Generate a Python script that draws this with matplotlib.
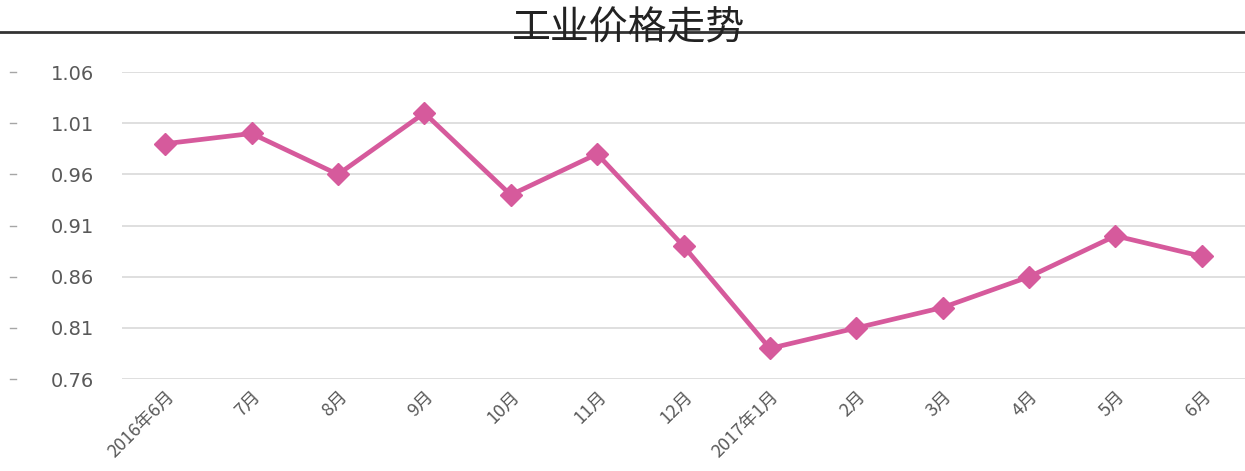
import matplotlib
matplotlib.use('Agg')
import matplotlib.pyplot as plt
import matplotlib.transforms as mtransforms

plt.rcParams['font.family'] = ['Noto Sans CJK SC', 'DejaVu Sans']

months = ['2016年6月', '7月', '8月', '9月', '10月', '11月', '12月',
          '2017年1月', '2月', '3月', '4月', '5月', '6月']
values = [0.99, 1.00, 0.96, 1.02, 0.94, 0.98, 0.89,
          0.79, 0.81, 0.83, 0.86, 0.90, 0.88]
yticks = [0.76, 0.81, 0.86, 0.91, 0.96, 1.01, 1.06]
title = '工业价格走势'

fig = plt.figure(figsize=(12.45, 4.71), dpi=100)
ax = fig.add_axes([0.098, 0.195, 0.902, 0.652])

x = list(range(len(months)))
ax.plot(x, values, color='#d65a9c', lw=3.4, marker='D', markersize=11,
        markeredgecolor='#d65a9c', zorder=3)

ax.set_xlim(-0.5, len(months) - 0.5)
ax.set_ylim(0.76, 1.06)
ax.set_yticks(yticks)
ax.set_yticklabels(['%.2f' % v for v in yticks], family=['DejaVu Sans'])
ax.set_xticks(x)
ax.set_xticklabels(months, rotation=45, ha='right', rotation_mode='anchor')
ax.grid(axis='y', color='#d9d9d9', lw=1.2)
ax.set_axisbelow(True)
for s in ax.spines.values():
    s.set_visible(False)
ax.tick_params(axis='y', length=0, pad=20, labelsize=14, labelcolor='#595959')
ax.tick_params(axis='x', length=0, pad=6, labelsize=13, labelcolor='#595959')

# little dashes at the far left of each y tick
trans = mtransforms.blended_transform_factory(fig.transFigure, ax.transData)
for v in yticks:
    ax.plot([0.008, 0.013], [v, v], color='#a6a6a6', lw=1, transform=trans,
            clip_on=False)

# header rule and title
fig.add_artist(plt.Line2D([0, 1], [1 - 32 / 471, 1 - 32 / 471],
                          color='#333333', lw=2))
fig.text(0.505, 1 - 28 / 471, title, ha='center', va='center',
         fontsize=28, color='#222222')

fig.savefig('out.png', dpi=100)
